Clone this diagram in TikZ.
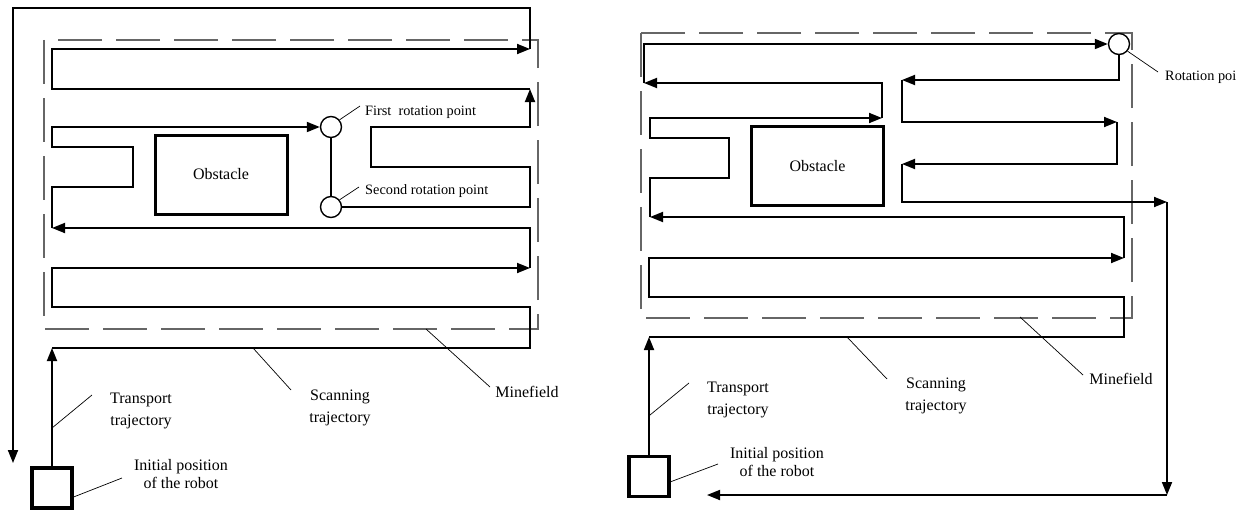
\documentclass[tikz,border=0pt]{standalone}
\usepackage{fontspec}
\setmainfont{Liberation Serif}
\usetikzlibrary{arrows.meta}
\begin{document}
\begin{tikzpicture}[x=1pt,y=-1pt,
  traj/.style={line width=1.8pt},
  tip/.style={-{Triangle[length=13pt,width=10pt]}},
  field/.style={line width=1.1pt, draw=black!60, dash pattern=on 44pt off 14pt},
  obst/.style={draw, line width=3pt, minimum width=132pt, minimum height=79pt, inner sep=0pt, font=\fontsize{16}{19}\selectfont},
  robot/.style={draw, line width=3.2pt, minimum size=40pt, inner sep=0pt},
  rot/.style={draw, circle, line width=1.4pt, minimum size=21pt, inner sep=0pt},
  lbl/.style={font=\fontsize{16}{22}\selectfont, align=center, inner sep=0pt},
  lblb/.style={font=\fontsize{16}{18.5}\selectfont, align=center, inner sep=0pt},
  slbl/.style={font=\fontsize{14.3}{17}\selectfont, inner sep=0pt},
  lead/.style={line width=0.7pt}
]
\path[use as bounding box] (0,0) rectangle (1246,511);

% ================= LEFT DIAGRAM =================
\draw[field] (44,40) rectangle (538,329);
\node[obst] (obL) at (221,174.5) {Obstacle};
\node[robot] (rbL) at (52,488) {};
\node[rot] (c1) at (331,127) {};
\node[rot] (c2) at (331,207) {};

\coordinate (a1) at (52,348);
\coordinate (a2) at (530,268);
\coordinate (a3) at (52,228);
\coordinate (a6) at (530,89);
\coordinate (a7) at (530,49);
\coordinate (a8) at (13,463);

\draw[traj,tip] (rbL.north) -- (a1);
\draw[traj,tip] (a1) -- (530,348) -- (530,307) -- (52,307) -- (52,268) -- (a2);
\draw[traj,tip] (a2) -- (530,228) -- (a3);
\draw[traj,tip] (a3) -- (52,187) -- (133,187) -- (133,147) -- (52,147) -- (52,127) -- (c1.west);
\draw[traj] (c1.south) -- (c2.north);
\draw[traj,tip] (c2.east) -- (530,207) -- (530,167) -- (371,167) -- (371,127) -- (530,127) -- (a6);
\draw[traj,tip] (a6) -- (52,89) -- (52,49) -- (a7);
\draw[traj,tip] (a7) -- (530,8) -- (13,8) -- (a8);

% labels left
\node[slbl, anchor=base west] (fr) at (365,115) {First\ \ rotation point};
\node[slbl, anchor=base west] (sr) at (365,194) {Second rotation point};
\coordinate (fr1) at (360,106);
\coordinate (sr1) at (359,187);
\draw[lead] (c1.40) -- (fr1);
\draw[lead] (c2.40) -- (sr1);

\node[lbl] (ttL) at (141,411) {Transport\\trajectory};
\coordinate (ttL0) at (52,428);
\coordinate (ttL1) at (92,395);
\draw[lead] (ttL0) -- (ttL1);

\node[lblb] (ipL) at (181,474) {Initial position\\of the robot};
\coordinate (ipL1) at (122,478);
\draw[lead] (rbL.east |- 0,497) coordinate (ipL0) -- (ipL1);

\node[lbl] (stL) at (340,408) {Scanning\\trajectory};
\coordinate (stL0) at (253,348);
\coordinate (stL1) at (291,390);
\draw[lead] (stL0) -- (stL1);

\node[lbl] (mfL) at (527,392) {Minefield};
\coordinate (mfL0) at (426,329);
\coordinate (mfL1) at (490,387);
\draw[lead] (mfL0) -- (mfL1);

% ================= RIGHT DIAGRAM =================
\draw[field] (641,33) rectangle (1132,318);
\node[obst] (obR) at (817.5,166) {Obstacle};
\node[robot] (rbR) at (649,476.5) {};
\node[rot] (c3) at (1119,44) {};

\coordinate (b1) at (649,337);
\coordinate (b2) at (1124,258);
\coordinate (b3) at (650,217);
\coordinate (b4) at (882,118);
\coordinate (b5) at (644,83);
\coordinate (b7) at (902,80);
\coordinate (b8) at (1117,122);
\coordinate (b9) at (902,164);
\coordinate (b10) at (1167,202);
\coordinate (b11) at (1167,495);
\coordinate (b12) at (707,495);

\draw[traj,tip] (rbR.north) -- (b1);
\draw[traj,tip] (b1) -- (1124,337) -- (1124,297) -- (649,297) -- (649,258) -- (b2);
\draw[traj,tip] (b2) -- (1124,217) -- (b3);
\draw[traj,tip] (b3) -- (650,178) -- (729,178) -- (729,138) -- (650,138) -- (650,118) -- (b4);
\draw[traj,tip] (b4) -- (882,83) -- (b5);
\draw[traj,tip] (b5) -- (644,44) -- (c3.west);
\draw[traj,tip] (c3.south) -- (1119,80) -- (b7);
\draw[traj,tip] (b7) -- (902,122) -- (b8);
\draw[traj,tip] (b8) -- (1117,164) -- (b9);
\draw[traj,tip] (b9) -- (902,202) -- (b10);
\draw[traj,tip] (b10) -- (b11);
\draw[traj,tip] (b11) -- (b12);

% labels right
\node[slbl, anchor=base west] (rp) at (1165,80) {Rotation poi};
\coordinate (rp1) at (1158,72);
\draw[lead] (c3.-40) -- (rp1);

\node[lbl] (ttR) at (738,400) {Transport\\trajectory};
\coordinate (ttR0) at (650,415);
\coordinate (ttR1) at (689,383);
\draw[lead] (ttR0) -- (ttR1);

\node[lblb] (ipR) at (777,462) {Initial position\\of the robot};
\coordinate (ipR0) at (670,482);
\coordinate (ipR1) at (718,464);
\draw[lead] (ipR0) -- (ipR1);

\node[lbl] (stR) at (936,396) {Scanning\\trajectory};
\coordinate (stR0) at (847,337);
\coordinate (stR1) at (887,379);
\draw[lead] (stR0) -- (stR1);

\node[lbl] (mfR) at (1121,379) {Minefield};
\coordinate (mfR0) at (1020,317);
\coordinate (mfR1) at (1083,375);
\draw[lead] (mfR0) -- (mfR1);
\end{tikzpicture}
\end{document}
